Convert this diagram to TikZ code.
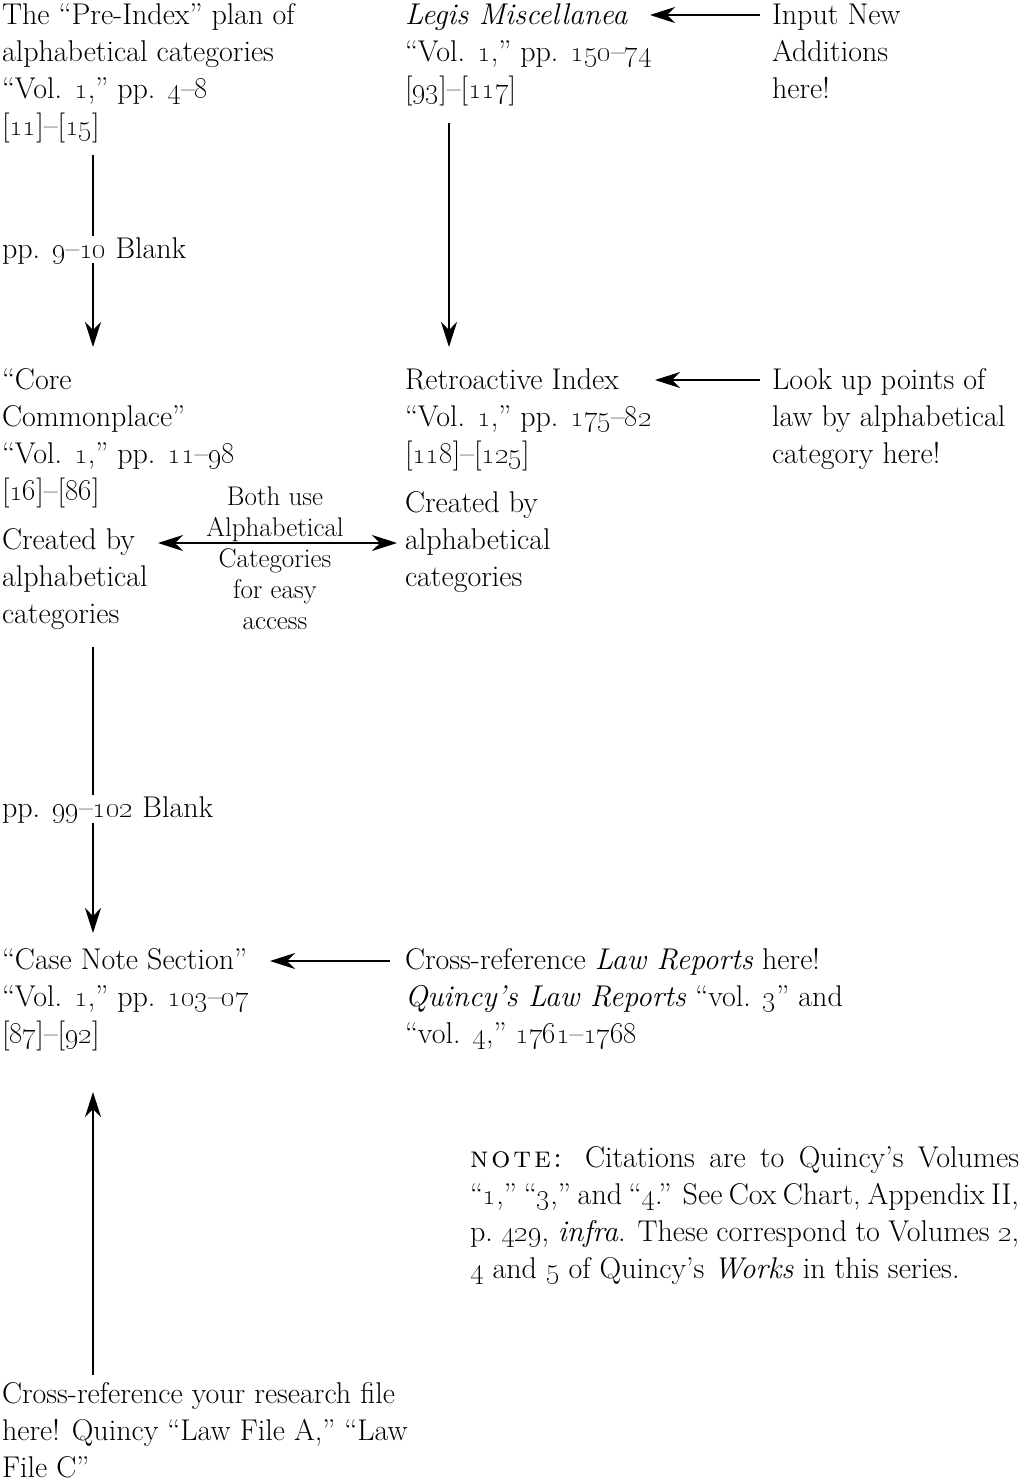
\documentclass[tikz,border=0pt]{standalone}
\usetikzlibrary{arrows.meta,calc}
\newcommand\os[1]{\oldstylenums{#1}}
\newcommand\bst{\rule{0pt}{26pt}}
\newcommand\mst{\rule{0pt}{22pt}}
\tikzset{
  txt/.style={anchor=north west, inner sep=0pt, outer sep=0pt, align=left,
    font=\fontsize{30}{37}\selectfont},
  midtxt/.style={anchor=north, inner sep=0pt, outer sep=0pt, align=center,
    font=\fontsize{27}{31}\selectfont},
  notetxt/.style={anchor=north west, inner sep=0pt, outer sep=0pt, text width=549pt, align=justify,
    font=\fontsize{30}{37}\selectfont},
  lnthin/.style={line width=1.1pt},
  lnthick/.style={line width=2pt},
  arr/.style={lnthin, -{Stealth[length=25pt,width=16pt,inset=8pt]}},
  darr/.style={lnthin, {Stealth[length=25pt,width=16pt,inset=8pt]}-{Stealth[length=25pt,width=16pt,inset=8pt]}},
}
\begin{document}
\begin{tikzpicture}[x=1pt,y=-1pt]
\useasboundingbox (0,0) rectangle (1019,1481);

% top row
\node[txt] (A) at (2,-2) {\bst The “Pre-Index” plan of\\alphabetical categories\\“Vol. \os{1},” pp. \os{4}–\os{8}\\{[}\os{11}]–[\os{15}]};
\node[txt] (B) at (405,-2) {\bst\textit{Legis Miscellanea}\\“Vol. \os{1},” pp. \os{150}–\os{74}\\{[}\os{93}]–[\os{117}]};
\node[txt] (C) at (772,-2) {\bst Input New\\Additions\\here!};

\node[txt] (b1) at (2,232) {\bst pp. \os{9}–\os{10} Blank};

% middle row
\node[txt] (D1) at (2,363) {\bst“Core\\Commonplace”\\“Vol. \os{1},” pp. \os{11}–\os{98}\\{[}\os{16}]–[\os{86}]};
\node[txt] (D2) at (2,523) {\bst Created by\\alphabetical\\categories};
\node[txt] (E1) at (405,363) {\bst Retroactive Index\\“Vol. \os{1},” pp. \os{175}–\os{82}\\{[}\os{118}]–[\os{125}]};
\node[txt] (E2) at (405,486) {\bst Created by\\alphabetical\\categories};
\node[txt] (F) at (772,363) {\bst Look up points of\\law by alphabetical\\category here!};
\node[midtxt] (M) at (275,483) {\mst Both use\\Alphabetical\\Categories\\for easy\\access};

\node[txt] (b2) at (2,791) {\bst pp. \os{99}–\os{102} Blank};

% lower row
\node[txt] (G) at (2,943) {\bst“Case Note Section”\\“Vol. \os{1},” pp. \os{103}–\os{07}\\{[}\os{87}]–[\os{92}]};
\node[txt] (H) at (405,943) {\bst Cross-reference \textit{Law Reports} here!\\\textit{Quincy’s Law Reports} “vol. \os{3}” and\\“vol. \os{4},” \os{1761}–\os{1768}};

\node[notetxt] (N) at (470,1141) {\bst{\scshape n\kern3pt o\kern3pt t\kern3pt e\kern2pt:} Citations are to Quincy’s Volumes\linebreak
“\os{1},” “\os{3},” and “\os{4}.” See Cox Chart, Appendix II,\linebreak
p.~\os{429}, \textit{infra}. These correspond to Volumes \os{2},\linebreak
\os{4} and \os{5} of Quincy’s \textit{Works} in this series.};

\node[txt] (I) at (2,1377) {\bst Cross-reference your research file\\here! Quincy “Law File A,” “Law\\File C”};

% connectors
\draw[arr] ($(C.north west)+(-12,17)$) -- ($(B.north west)+(245,17)$);
\draw[arr] ($(B.north west)+(44,125)$) -- ($(E1.north west)+(44,-16)$);
\draw[lnthick] ($(A.north west)+(91,157)$) -- ($(b1.north west)+(91,4)$);
\draw[arr] ($(b1.north west)+(91,31)$) -- ($(D1.north west)+(91,-16)$);
\draw[arr] ($(F.north west)+(-12,17)$) -- ($(E1.north west)+(250,17)$);
\draw[darr] ($(D2.north west)+(156,20)$) -- ($(E2.north west)+(-8,57)$);
\draw[lnthick] ($(D2.north west)+(91,124)$) -- ($(b2.north west)+(91,4)$);
\draw[arr] ($(b2.north west)+(91,32)$) -- ($(G.north west)+(91,-10)$);
\draw[arr] ($(H.north west)+(-15,18)$) -- ($(G.north west)+(268,18)$);
\draw[arr] ($(I.north west)+(91,-2)$) -- ($(G.north west)+(91,149)$);
\end{tikzpicture}
\end{document}
